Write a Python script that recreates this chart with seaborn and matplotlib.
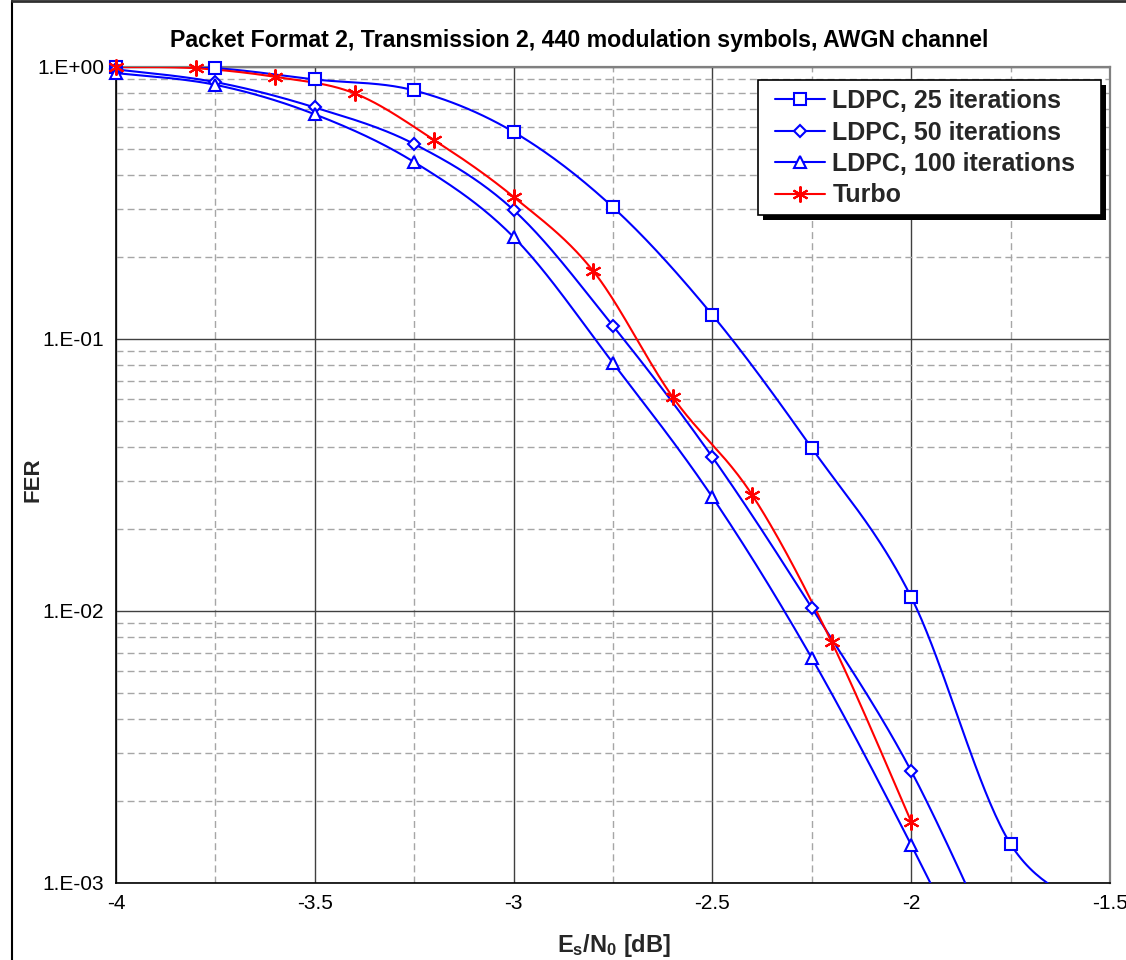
import numpy as np
import matplotlib
matplotlib.use("Agg")
import matplotlib.pyplot as plt
from matplotlib.lines import Line2D
from matplotlib.patches import Rectangle
from matplotlib.ticker import FixedLocator, FixedFormatter, NullFormatter
import seaborn as sns

# ---------------- data ----------------
title = "Packet Format 2, Transmission 2, 440 modulation symbols, AWGN channel"
x_label = r"$\mathbf{E_s/N_0}$ [dB]"
y_label = "FER"

esn0_ldpc25 = [-4.0, -3.75, -3.5, -3.25, -3.0, -2.75, -2.5, -2.25, -2.0, -1.75, -1.5]
fer_ldpc25 = [1.0, 0.99, 0.90, 0.82, 0.577, 0.305, 0.1225, 0.0397, 0.01125, 0.00139, 0.00077]

esn0_ldpc50 = [-4.0, -3.75, -3.5, -3.25, -3.0, -2.75, -2.5, -2.25, -2.0, -1.75]
fer_ldpc50 = [0.98, 0.88, 0.71, 0.521, 0.298, 0.1117, 0.0368, 0.01026, 0.00258, 0.00043]

esn0_ldpc100 = [-4.0, -3.75, -3.5, -3.25, -3.0, -2.75, -2.5, -2.25, -2.0, -1.75]
fer_ldpc100 = [0.95, 0.86, 0.67, 0.447, 0.237, 0.0816, 0.0262, 0.00671, 0.00138, 0.00025]

esn0_turbo = [-4.0, -3.8, -3.6, -3.4, -3.2, -3.0, -2.8, -2.6, -2.4, -2.2, -2.0]
fer_turbo = [1.0, 0.99, 0.92, 0.80, 0.539, 0.333, 0.178, 0.0612, 0.0267, 0.00769, 0.00168]

series_names = ["LDPC, 25 iterations", "LDPC, 50 iterations", "LDPC, 100 iterations", "Turbo"]

x_ticks = [-4.0, -3.5, -3.0, -2.5, -2.0, -1.5]
x_tick_labels = ["-4", "-3.5", "-3", "-2.5", "-2", "-1.5"]
x_minor = [-3.75, -3.25, -2.75, -2.25, -1.75]
y_ticks = [1e-3, 1e-2, 1e-1, 1.0]
y_tick_labels = ["1.E-03", "1.E-02", "1.E-01", "1.E+00"]

# ---------------- style ----------------
sns.set_theme(style="white")
plt.rcParams["font.family"] = ["Liberation Sans", "DejaVu Sans"]
plt.rcParams["mathtext.fontset"] = "custom"
plt.rcParams["mathtext.rm"] = "Liberation Sans"
plt.rcParams["mathtext.bf"] = "Liberation Sans:bold"
plt.rcParams["mathtext.it"] = "Liberation Sans:italic"


def excel_smooth(x, y, n=40):
    """Excel-like smoothed line (Bezier with 1/6 tangents) in (x, log10 y) space."""
    px = np.asarray(x, float)
    py = np.log10(np.asarray(y, float))
    P = np.column_stack([px, py])
    m = len(P)
    out = []
    t = np.linspace(0, 1, n)[:, None]
    for i in range(m - 1):
        p0 = P[i]
        p3 = P[i + 1]
        pm = P[i - 1] if i > 0 else P[i]
        pn = P[i + 2] if i + 2 < m else P[i + 1]
        c1 = p0 + (p3 - pm) / 6.0
        c2 = p3 - (pn - p0) / 6.0
        seg = ((1 - t) ** 3) * p0 + 3 * ((1 - t) ** 2) * t * c1 + 3 * (1 - t) * t ** 2 * c2 + t ** 3 * p3
        out.append(seg if i == 0 else seg[1:])
    pts = np.vstack(out)
    return pts[:, 0], 10 ** pts[:, 1]


fig = plt.figure(figsize=(11.26, 9.6), dpi=100)
fig.patch.set_facecolor("white")
ax = fig.add_axes([116 / 1126, 77 / 960, 994 / 1126, 816 / 960])
ax.set_facecolor("white")
ax.set_yscale("log")
ax.set_xlim(-4.0, -1.5)
ax.set_ylim(1e-3, 1.0)

# grid
ax.xaxis.set_major_locator(FixedLocator(x_ticks))
ax.xaxis.set_major_formatter(FixedFormatter(x_tick_labels))
ax.xaxis.set_minor_locator(FixedLocator(x_minor))
ax.yaxis.set_major_locator(FixedLocator(y_ticks))
ax.yaxis.set_major_formatter(FixedFormatter(y_tick_labels))
minor_y = [m * 10.0 ** e for e in (-3, -2, -1) for m in range(2, 10)]
ax.yaxis.set_minor_locator(FixedLocator(minor_y))
ax.yaxis.set_minor_formatter(NullFormatter())
ax.grid(which="major", color="#404040", linewidth=1.0, linestyle="-")
ax.grid(which="minor", color="#a6a6a6", linewidth=1.0, linestyle=(0, (5, 3)))
ax.set_axisbelow(True)

ax.tick_params(axis="x", which="both", length=0, pad=8, labelsize=15, colors="black")
ax.tick_params(axis="y", which="major", length=5, width=1, pad=3.5, labelsize=15, colors="black", direction="out")
ax.tick_params(axis="y", which="minor", length=0)

for side in ("left", "bottom"):
    ax.spines[side].set_color("black")
    ax.spines[side].set_linewidth(1.2)
for side in ("top", "right"):
    ax.spines[side].set_color("#808080")
    ax.spines[side].set_linewidth(1.6)

blue = "#0000FF"
red = "#FF0000"
series = [
    (esn0_ldpc25, fer_ldpc25, blue, "s", 8.8),
    (esn0_ldpc50, fer_ldpc50, blue, "D", 6.4),
    (esn0_ldpc100, fer_ldpc100, blue, "^", 9.2),
    (esn0_turbo, fer_turbo, red, (6, 2, 0), 11.5),
]

handles = []
ymin, ymax = ax.get_ylim()
for (xs, ys, col, mk, ms), name in zip(series, series_names):
    sx, sy = excel_smooth(xs, ys)
    sns.lineplot(x=sx, y=sy, ax=ax, color=col, linewidth=1.5, sort=False,
                 estimator=None, legend=False, zorder=3)
    xa = np.asarray(xs)
    ya = np.asarray(ys)
    vis = ya >= ymin
    ax.plot(xa[vis], ya[vis], linestyle="none", marker=mk, markersize=ms,
            markerfacecolor="white" if mk != (6, 2, 0) else col,
            markeredgecolor=col, markeredgewidth=1.5, clip_on=False, zorder=4)
    handles.append(Line2D([], [], color=col, linewidth=1.5, marker=mk, markersize=ms,
                          markerfacecolor="white" if mk != (6, 2, 0) else col,
                          markeredgecolor=col, markeredgewidth=1.5, label=name))

# legend content without frame; frame + shadow drawn around it afterwards
leg = ax.legend(handles=handles, loc="upper left",
                bbox_to_anchor=((775 - 116) / 994, 1 - (89 - 67) / 816),
                frameon=False, prop={"weight": "bold", "size": 18},
                handlelength=2.0, handletextpad=0.3, labelspacing=0.3,
                borderpad=0.0, borderaxespad=0.0)
leg.set_zorder(11)

ax.set_xlabel(x_label, fontsize=17, fontweight="bold")
ax.xaxis.set_label_coords(0.501, -0.060)
ax.xaxis.label.set_verticalalignment("top")
ax.set_ylabel(y_label, fontsize=16, fontweight="bold")
ax.yaxis.set_label_coords(-0.0734, 0.494)

fig.text(579 / 1126, 1 - 40 / 960, title, ha="center", va="center",
         fontsize=16.7, fontweight="bold", color="black")

# outer chart frame (left and top edges visible)
fig.add_artist(Line2D([12 / 1126, 12 / 1126], [0, 1 - 1 / 960], transform=fig.transFigure,
                      color="black", linewidth=1.5))
fig.add_artist(Line2D([12 / 1126, 1], [1 - 1 / 960, 1 - 1 / 960], transform=fig.transFigure,
                      color="#303030", linewidth=2.0))

# legend box and solid black drop shadow
fig.canvas.draw()
bb = leg.get_window_extent()
W, H = fig.bbox.width, fig.bbox.height
bx0 = bb.x0 - 17
bx1 = bb.x1 + 25
by1 = bb.y1 + 9
by0 = bb.y0 - 7
shadow = Rectangle(((bx0 + 5) / W, (by0 - 5) / H), (bx1 - bx0) / W, (by1 - by0) / H,
                   transform=fig.transFigure, facecolor="black", edgecolor="none",
                   zorder=9, clip_on=False)
frame = Rectangle((bx0 / W, by0 / H), (bx1 - bx0) / W, (by1 - by0) / H,
                  transform=fig.transFigure, facecolor="white", edgecolor="black",
                  linewidth=1.2, zorder=10, clip_on=False)
ax.add_artist(shadow)
ax.add_artist(frame)

fig.savefig("out.png", dpi=100, facecolor="white")
